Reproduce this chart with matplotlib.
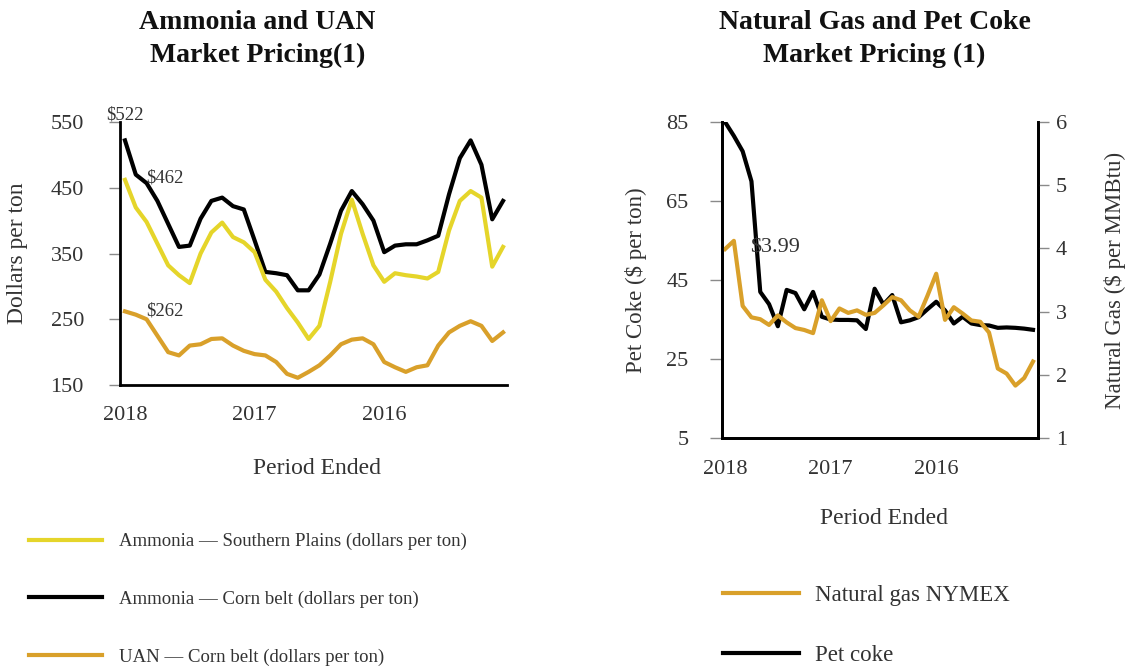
import matplotlib
matplotlib.use('Agg')
import matplotlib.pyplot as plt
import numpy as np

plt.rcParams['font.family'] = 'Liberation Serif'

# monthly points, newest (2018) on the left
year_ticks = [0, 12, 24]
year_labels = ['2018', '2017', '2016']

southern_plains = [462, 420, 398, 365, 332, 317, 305, 350, 382, 397, 375, 367,
                   352, 310, 292, 267, 245, 220, 240, 307, 380, 432, 380, 332,
                   307, 320, 317, 315, 312, 322, 385, 430, 445, 435, 330, 360]
corn_belt = [522, 470, 457, 430, 395, 360, 362, 403, 430, 435, 422, 417,
             370, 322, 320, 317, 294, 294, 318, 365, 415, 445, 425, 400,
             352, 362, 364, 364, 370, 377, 440, 495, 522, 485, 402, 430]
uan_corn_belt = [262, 257, 250, 225, 200, 195, 210, 212, 220, 221, 210, 202,
                 197, 195, 185, 167, 161, 170, 180, 195, 212, 219, 221, 212,
                 185, 177, 170, 177, 180, 210, 230, 240, 247, 240, 217, 230]

pet_coke = [85, 81.5, 77.6, 70, 42, 38.9, 33.3, 42.5, 41.7, 37.6, 42, 35.7,
            35, 34.9, 34.9, 34.8, 32.6, 42.8, 38.8, 41.2, 34.3, 34.8, 35.6, 37.6,
            39.5, 37.3, 34, 35.7, 34, 33.6, 33.5, 32.9, 33, 32.9, 32.7, 32.4]
nat_gas = [3.99, 4.12, 3.09, 2.91, 2.88, 2.79, 2.94, 2.83, 2.74, 2.71, 2.66, 3.18,
           2.85, 3.05, 2.98, 3.02, 2.95, 2.98, 3.1, 3.23, 3.18, 3.02, 2.92, 3.25,
           3.6, 2.87, 3.07, 2.97, 2.86, 2.84, 2.67, 2.1, 2.02, 1.83, 1.95, 2.21]

YELLOW = '#E5D52A'
ORANGE = '#D9A02A'
TXT = '#333333'
TICKC = '#8a8a8a'

fig = plt.figure(figsize=(11.3, 6.71), dpi=100)

# ---- left: ammonia / UAN
ax = fig.add_axes([0.1062, 0.4262, 0.3425, 0.392])
x = np.arange(len(corn_belt))
l_black, = ax.plot(x, corn_belt, color='black', lw=3, solid_joinstyle='round')
l_yellow, = ax.plot(x, southern_plains, color=YELLOW, lw=3, solid_joinstyle='round')
l_orange, = ax.plot(x, uan_corn_belt, color=ORANGE, lw=3, solid_joinstyle='round')
ax.set_xlim(-0.46, 35.37)
ax.set_ylim(150, 550)
ax.set_yticks([150, 250, 350, 450, 550])
ax.set_xticks(year_ticks)
ax.set_xticklabels(year_labels)
for s in ['top', 'right']:
    ax.spines[s].set_visible(False)
for s in ['left', 'bottom']:
    ax.spines[s].set_linewidth(2)
ax.tick_params(axis='y', direction='out', length=8, width=1, color=TICKC,
               labelsize=16, labelcolor=TXT, pad=18)
ax.tick_params(axis='x', length=0, labelsize=16, labelcolor=TXT, pad=15)
ax.set_ylabel('Dollars per ton', fontsize=17, color=TXT)
ax.yaxis.set_label_coords(-0.237, 0.5)
ax.set_xlabel('Period Ended', fontsize=17, color=TXT)
ax.xaxis.set_label_coords(0.509, -0.278)
ax.text(0, 561, '$522', fontsize=13.5, color=TXT, ha='center', va='center', clip_on=False)
ax.text(3.7, 465, '$462', fontsize=13.5, color=TXT, ha='center', va='center')
ax.text(3.7, 262, '$262', fontsize=13.5, color=TXT, ha='center', va='center')

fig.text(0.228, 0.942, 'Ammonia and UAN\nMarket Pricing(1)', ha='center', va='center',
         fontsize=20, fontweight='bold', color='#111111', linespacing=1.4)

fig.legend([l_yellow, l_black, l_orange],
           ['Ammonia \u2014 Southern Plains (dollars per ton)',
            'Ammonia \u2014 Corn belt (dollars per ton)',
            'UAN \u2014 Corn belt (dollars per ton)'],
           loc='upper left', bbox_to_anchor=(0.019, 0.217), frameon=False,
           fontsize=13.5, handlelength=3.9, handletextpad=0.9, labelspacing=2.16,
           borderaxespad=0, labelcolor=TXT)

# ---- right: natural gas / pet coke
ax1 = fig.add_axes([0.639, 0.3472, 0.2796, 0.4709])
x2 = np.arange(len(pet_coke))
ax1.text(5.7, 53.0, '$3.99', fontsize=16, color=TXT, ha='center', va='center')
l_coke, = ax1.plot(x2, pet_coke, color='black', lw=3, solid_joinstyle='round')
ax1.set_xlim(-0.34, 35.57)
ax1.set_ylim(5, 85)
ax1.set_yticks([5, 25, 45, 65, 85])
ax1.set_xticks(year_ticks)
ax1.set_xticklabels(year_labels)
ax2 = ax1.twinx()
l_gas, = ax2.plot(x2, nat_gas, color=ORANGE, lw=3, solid_joinstyle='round')
ax2.set_ylim(1, 6)
ax2.set_yticks([1, 2, 3, 4, 5, 6])
for a in (ax1, ax2):
    a.spines['top'].set_visible(False)
    for s in ['left', 'bottom', 'right']:
        a.spines[s].set_linewidth(2)
ax1.tick_params(axis='y', direction='out', length=9, width=1, color=TICKC,
                labelsize=16, labelcolor=TXT, pad=15)
ax1.tick_params(axis='x', length=0, labelsize=16, labelcolor=TXT, pad=16)
ax2.tick_params(axis='y', direction='out', length=8, width=1, color=TICKC,
                labelsize=16, labelcolor=TXT, pad=5)
ax1.set_ylabel('Pet Coke ($ per ton)', fontsize=16.5, color=TXT)
ax1.yaxis.set_label_coords(-0.237, 0.5)
ax2.set_ylabel('Natural Gas ($ per MMBtu)', fontsize=16.5, color=TXT, rotation=90)
ax2.yaxis.set_label_coords(1.21, 0.5)
ax1.set_xlabel('Period Ended', fontsize=17, color=TXT)
ax1.xaxis.set_label_coords(0.513, -0.222)

fig.text(0.774, 0.942, 'Natural Gas and Pet Coke\nMarket Pricing (1)', ha='center',
         va='center', fontsize=20, fontweight='bold', color='#111111', linespacing=1.4)

fig.legend([l_gas, l_coke], ['Natural gas NYMEX', 'Pet coke'],
           loc='upper left', bbox_to_anchor=(0.632, 0.1415), frameon=False,
           fontsize=16.5, handlelength=3.3, handletextpad=0.7, labelspacing=1.67,
           borderaxespad=0, labelcolor=TXT)

fig.savefig('out.png', dpi=100)
